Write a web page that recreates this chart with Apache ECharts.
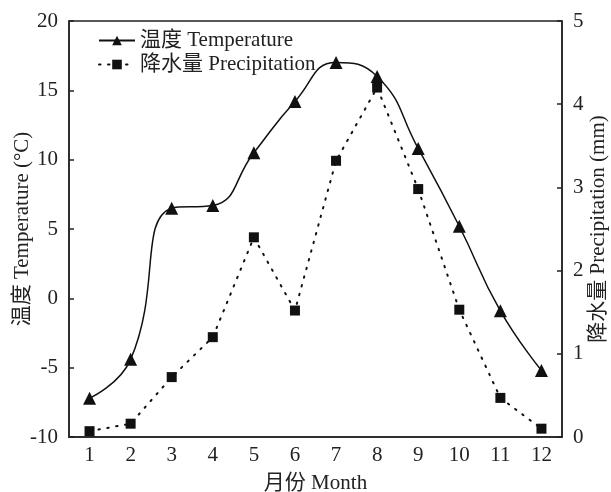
<!DOCTYPE html>
<html>
<head>
<meta charset="utf-8">
<script src="https://cdn.jsdelivr.net/npm/echarts@6/dist/echarts.min.js"></script>
<style>
  html, body { margin: 0; padding: 0; background: #fff; }
  #chart { width: 611px; height: 492px; }
</style>
</head>
<body>
<div id="chart"></div>
<script>
// monthly values
const months = ['1', '2', '3', '4', '5', '6', '7', '8', '9', '10', '11', '12']
const temperature = [-7.2, -4.4, 6.5, 6.7, 10.5, 14.2, 17.0, 16.0, 10.8, 5.2, -0.9, -5.2]
const precipitation = [0.07, 0.16, 0.72, 1.2, 2.4, 1.52, 3.32, 4.2, 2.98, 1.53, 0.47, 0.1]

const font = "'Liberation Serif', 'Noto Sans CJK SC', serif"
const ink = '#222'
const fs = 21
const axisLine = { onZero: false, lineStyle: { color: ink, width: 1.5 } }
const axisTick = { inside: true, length: 5, lineStyle: { color: ink, width: 1.5 } }

const chart = echarts.init(document.getElementById('chart'))

chart.setOption({
  animation: false,
  textStyle: { fontFamily: font, color: ink },
  grid: {
    left: 69, right: 49, top: 21, bottom: 55,
    outerBoundsMode: 'none',
    containLabel: false,
    show: true, borderColor: ink, borderWidth: 1.5
  },
  legend: {
    orient: 'vertical',
    left: 93,
    top: 25,
    itemWidth: 36,
    itemHeight: 12,
    itemGap: 3,
    textStyle: { fontFamily: font, fontSize: fs, color: ink },
    data: ['温度 Temperature', '降水量 Precipitation']
  },
  xAxis: {
    type: 'category',
    data: months,
    boundaryGap: true,
    name: '月份 Month',
    nameLocation: 'middle',
    nameGap: 36,
    nameMoveOverlap: false,
    nameTextStyle: { fontFamily: font, fontSize: fs, color: ink },
    axisLine: axisLine,
    axisTick: Object.assign({ alignWithLabel: true }, axisTick),
    axisLabel: { fontFamily: font, fontSize: fs, color: ink, margin: 8 }
  },
  yAxis: [
    {
      type: 'value',
      min: -10, max: 20, interval: 5,
      name: '温度 Temperature (°C)',
      nameLocation: 'middle',
      nameGap: 36,
      nameMoveOverlap: false,
      nameTextStyle: { fontFamily: font, fontSize: fs, color: ink },
      axisLine: Object.assign({ show: true }, axisLine),
      axisTick: Object.assign({ show: true }, axisTick),
      axisLabel: { fontFamily: font, fontSize: fs, color: ink, margin: 11 },
      splitLine: { show: false }
    },
    {
      type: 'value',
      min: 0, max: 5, interval: 1,
      position: 'right',
      name: '降水量 Precipitation (mm)',
      nameLocation: 'middle',
      nameGap: 26,
      nameRotate: 90,
      nameMoveOverlap: false,
      nameTextStyle: { fontFamily: font, fontSize: fs, color: ink },
      axisLine: Object.assign({ show: true }, axisLine),
      axisTick: Object.assign({ show: true }, axisTick),
      axisLabel: { fontFamily: font, fontSize: fs, color: ink, margin: 11 },
      splitLine: { show: false }
    }
  ],
  series: [
    {
      name: '温度 Temperature',
      type: 'line',
      yAxisIndex: 0,
      data: temperature,
      smooth: 0.5,
      symbol: 'triangle',
      symbolSize: 13,
      itemStyle: { color: '#111' },
      lineStyle: { color: '#111', width: 1.5 }
    },
    {
      name: '降水量 Precipitation',
      type: 'line',
      yAxisIndex: 1,
      data: precipitation,
      symbol: 'rect',
      symbolSize: 10,
      itemStyle: { color: '#111' },
      lineStyle: { color: '#111', width: 2, type: [1.5, 7.5], cap: 'round' }
    }
  ]
})
</script>
</body>
</html>
